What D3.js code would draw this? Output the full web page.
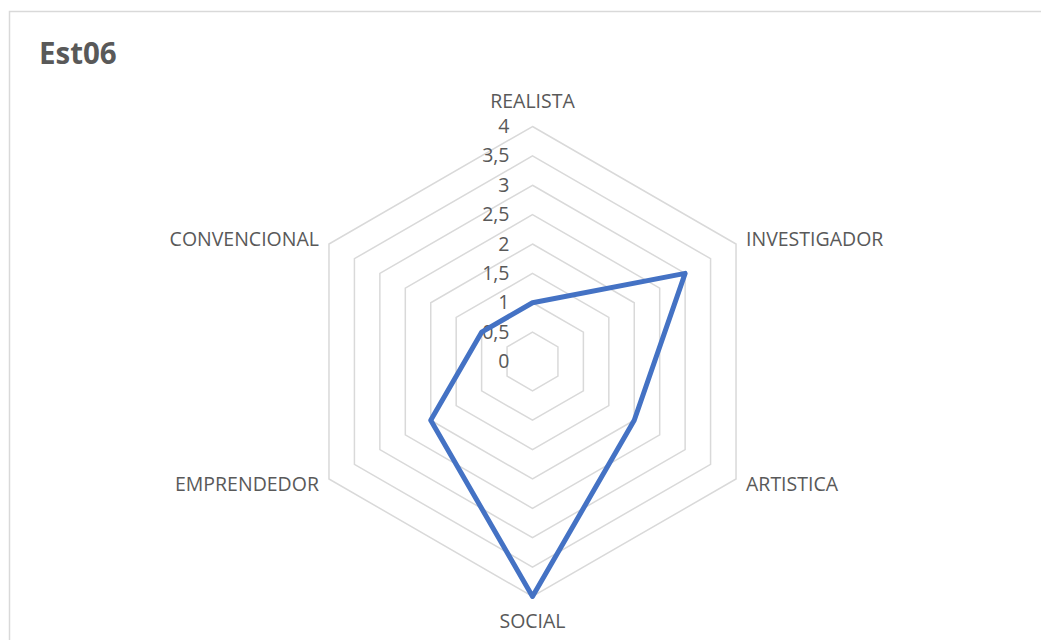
<!DOCTYPE html>
<html>
<head>
<meta charset="utf-8">
<script src="https://cdn.jsdelivr.net/npm/d3@7"></script>
<style>
  html, body { margin: 0; padding: 0; background: #fff; }
  svg { display: block; }
</style>
</head>
<body>
<div id="chart"></div>
<script>
// data
const categories = ["REALISTA", "INVESTIGADOR", "ARTISTICA", "SOCIAL", "EMPRENDEDOR", "CONVENCIONAL"];
const values = [1, 3, 2, 4, 2, 1];
const ticks = [0, 0.5, 1, 1.5, 2, 2.5, 3, 3.5, 4];
const title = "Est06";

let w = 1041;
let h = 640;
let cx = 532.5;
let cy = 361.5;
let R = 235;
const font = "'Open Sans', 'Liberation Sans', sans-serif";

let svg = d3.select("#chart")
    .append("svg")
    .attr("width", w)
    .attr("height", h);

// frame of the chart area (runs off right/bottom)
svg.append("rect")
    .attr("x", 9.5).attr("y", 11.5)
    .attr("width", 1200).attr("height", 800)
    .attr("fill", "#fff")
    .attr("stroke", "#d9d9d9")
    .attr("stroke-width", 1.5);

svg.append("text")
    .attr("x", 39).attr("y", 64)
    .attr("font-family", font)
    .attr("font-weight", "bold")
    .attr("font-size", 29.5)
    .attr("fill", "#595959")
    .text(title);

const r = d3.scaleLinear().domain([0, 4]).range([0, R]);
const angle = i => i * 2 * Math.PI / categories.length;
const px = (i, v) => cx + r(v) * Math.sin(angle(i));
const py = (i, v) => cy - r(v) * Math.cos(angle(i));

// grid rings
svg.append("g").selectAll("polygon")
    .data(ticks.filter(t => t > 0))
    .enter().append("polygon")
    .attr("points", t => categories.map((c, i) => px(i, t) + "," + py(i, t)).join(" "))
    .attr("fill", "none")
    .attr("stroke", "#d9d9d9")
    .attr("stroke-width", 1.5);

// tick labels
svg.append("g").selectAll("text")
    .data(ticks)
    .enter().append("text")
    .attr("x", cx - 23)
    .attr("y", t => cy - r(t) + 6.5)
    .attr("text-anchor", "end")
    .attr("font-family", font)
    .attr("font-size", 19.5)
    .attr("fill", "#595959")
    .text(t => d3.format(".1~f")(t).replace(".", ","));

// category labels
const labelPos = [
    {dx: 0, dy: -19, anchor: "middle"},
    {dx: 10, dy: 2, anchor: "start"},
    {dx: 10, dy: 12, anchor: "start"},
    {dx: 0, dy: 31, anchor: "middle"},
    {dx: -10, dy: 12, anchor: "end"},
    {dx: -10, dy: 2, anchor: "end"}
];
svg.append("g").selectAll("text")
    .data(categories)
    .enter().append("text")
    .attr("x", (d, i) => px(i, 4) + labelPos[i].dx)
    .attr("y", (d, i) => py(i, 4) + labelPos[i].dy)
    .attr("text-anchor", (d, i) => labelPos[i].anchor)
    .attr("font-family", font)
    .attr("font-size", 19.5)
    .attr("fill", "#595959")
    .text(d => d);

// series
const line = d3.line()
    .x((d, i) => px(i, d))
    .y((d, i) => py(i, d))
    .curve(d3.curveLinearClosed);

svg.append("path")
    .datum(values)
    .attr("d", line)
    .attr("fill", "none")
    .attr("stroke", "#4472c4")
    .attr("stroke-width", 5)
    .attr("stroke-linejoin", "round");
</script>
</body>
</html>
